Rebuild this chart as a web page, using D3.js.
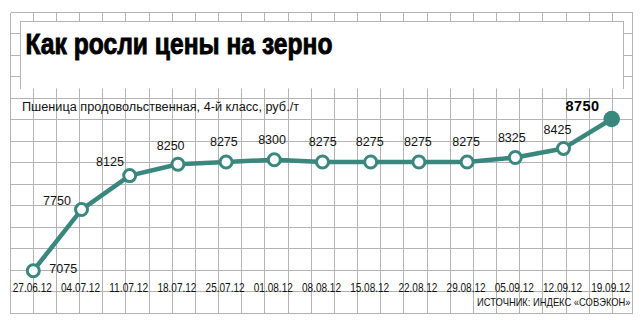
<!DOCTYPE html>
<html>
<head>
<meta charset="utf-8">
<script src="https://cdn.jsdelivr.net/npm/d3@7"></script>
<style>
  body { margin: 0; background: #fff; }
  svg { display: block; }
  .grid line { stroke: #b3b3b3; stroke-width: 1; shape-rendering: crispEdges; }
  text { font-family: "Liberation Sans Narrow", "Liberation Sans", Arial, sans-serif; fill: #111; }
  text.val, text.title { font-family: "Liberation Sans", Arial, sans-serif; }
</style>
</head>
<body>
<div id="chart"></div>
<script>
// data
var dates = ["27.06.12", "04.07.12", "11.07.12", "18.07.12", "25.07.12", "01.08.12", "08.08.12",
             "15.08.12", "22.08.12", "29.08.12", "05.09.12", "12.09.12", "19.09.12"];
var prices = [7075, 7750, 8125, 8250, 8275, 8300, 8275, 8275, 8275, 8275, 8325, 8425, 8750];
var title = "Как росли цены на зерно";
var subtitle = "Пшеница продовольственная, 4-й класс, руб./т";
var source = "ИСТОЧНИК: ИНДЕКС «СОВЭКОН»";

var width = 642, height = 324;
var teal = "#3a877d";

var svg = d3.select("#chart").append("svg")
    .attr("width", width)
    .attr("height", height);

// background grid (squared paper)
var gridLeft = 9.5, gridRight = 632.5, gridTop = 11.5, gridBottom = 312.5;
var colStep = 23.17, rowStep = 21.5;
var cols = d3.range(gridLeft, gridRight - 5, colStep).map(Math.round).map(function(v) { return v + 0.5; });
cols.push(gridRight);
var rows = d3.range(0, 15).map(function(k) { return Math.round(gridTop + k * rowStep) + 0.5; });

var grid = svg.append("g").attr("class", "grid");
grid.selectAll("line.v")
    .data(cols)
  .enter().append("line")
    .attr("class", "v")
    .attr("x1", function(d) { return d; })
    .attr("x2", function(d) { return d; })
    .attr("y1", rows[0])
    .attr("y2", rows[rows.length - 1]);
grid.selectAll("line.h")
    .data(rows)
  .enter().append("line")
    .attr("class", "h")
    .attr("x1", cols[0])
    .attr("x2", gridRight)
    .attr("y1", function(d) { return d; })
    .attr("y2", function(d) { return d; });

// title box
var box = {x: 20.5, y: 21.5, w: 603, h: 67};
svg.append("rect")
    .attr("x", box.x).attr("y", box.y)
    .attr("width", box.w).attr("height", box.h)
    .attr("fill", "#fff");
svg.append("path")
    .attr("d", "M" + box.x + "," + (box.y + box.h) + "V" + box.y + "H" + (box.x + box.w) + "V" + (box.y + box.h))
    .attr("fill", "none")
    .attr("stroke", "#b3b3b3")
    .attr("shape-rendering", "crispEdges");

svg.append("text")
    .attr("class", "title")
    .attr("x", 25.5).attr("y", 53.5)
    .attr("font-size", 30)
    .attr("font-weight", "bold")
    .attr("textLength", 307)
    .attr("lengthAdjust", "spacingAndGlyphs")
    .style("fill", "#000")
    .style("stroke", "#000")
    .style("stroke-width", 0.9)
    .text(title);

svg.append("text")
    .attr("x", 22).attr("y", 110.5)
    .attr("font-size", 12.5)
    .attr("textLength", 277)
    .attr("lengthAdjust", "spacingAndGlyphs")
    .text(subtitle);

// scales
var x = d3.scalePoint()
    .domain(dates)
    .range([33.3, 611.7]);

var y = d3.scaleLinear()
    .domain([7075, 8750])
    .range([270.7, 119]);

var pts = dates.map(function(d, i) { return {date: d, value: prices[i], i: i}; });
var last = pts.length - 1;

var line = d3.line()
    .x(function(d) { return x(d.date); })
    .y(function(d) { return y(d.value); });

svg.append("path")
    .datum(pts)
    .attr("d", line)
    .attr("fill", "none")
    .attr("stroke", teal)
    .attr("stroke-width", 4.5)
    .attr("stroke-linejoin", "round");

svg.selectAll("circle.pt")
    .data(pts)
  .enter().append("circle")
    .attr("class", "pt")
    .attr("cx", function(d) { return x(d.date); })
    .attr("cy", function(d) { return y(d.value); })
    .attr("r", function(d) { return d.i === last ? 8.3 : 6; })
    .attr("fill", function(d) { return d.i === last ? teal : "#fff"; })
    .attr("stroke", teal)
    .attr("stroke-width", function(d) { return d.i === last ? 0 : 3; });

// value labels: placed above, pushed left by how steep the incoming segment is
function rise(d) {
  return d.i === 0 ? 0 : y(prices[d.i - 1]) - y(d.value);
}

svg.selectAll("text.val")
    .data(pts)
  .enter().append("text")
    .attr("class", "val")
    .attr("font-size", function(d) { return d.i === last ? 14.5 : 12.5; })
    .attr("font-weight", function(d) { return d.i === last ? "bold" : "normal"; })
    .attr("letter-spacing", function(d) { return d.i === last ? 0.5 : 0; })
    .attr("text-anchor", function(d) {
        if (d.i === 0) return "start";
        if (d.i === last) return "end";
        return "middle";
    })
    .attr("x", function(d) {
        var cx = x(d.date);
        if (d.i === 0) return cx + 16;
        if (d.i === last) return cx - 12;
        return cx - Math.min(rise(d) * 0.55 + 1, 24.5);
    })
    .attr("y", function(d) {
        var cy = y(d.value);
        if (d.i === 0) return cy + 2.5;
        if (d.i === last) return cy - 8;
        return cy - Math.max(16 - Math.max(rise(d), 0) * 0.18, 5);
    })
    .style("fill", function(d) { return d.i === last ? "#000" : "#111"; })
    .text(function(d) { return d.value; });

// date labels
svg.selectAll("text.date")
    .data(dates)
  .enter().append("text")
    .attr("class", "date")
    .attr("x", function(d) { return x(d) - 1; })
    .attr("y", 291.5)
    .attr("font-size", 13)
    .attr("text-anchor", "middle")
    .attr("textLength", 39)
    .attr("lengthAdjust", "spacingAndGlyphs")
    .text(function(d) { return d; });

// source, squeezed horizontally like the condensed original
svg.append("text")
    .attr("transform", "translate(630.5,306) scale(0.815,1)")
    .attr("font-size", 11.5)
    .attr("text-anchor", "end")
    .text(source);
</script>
</body>
</html>
